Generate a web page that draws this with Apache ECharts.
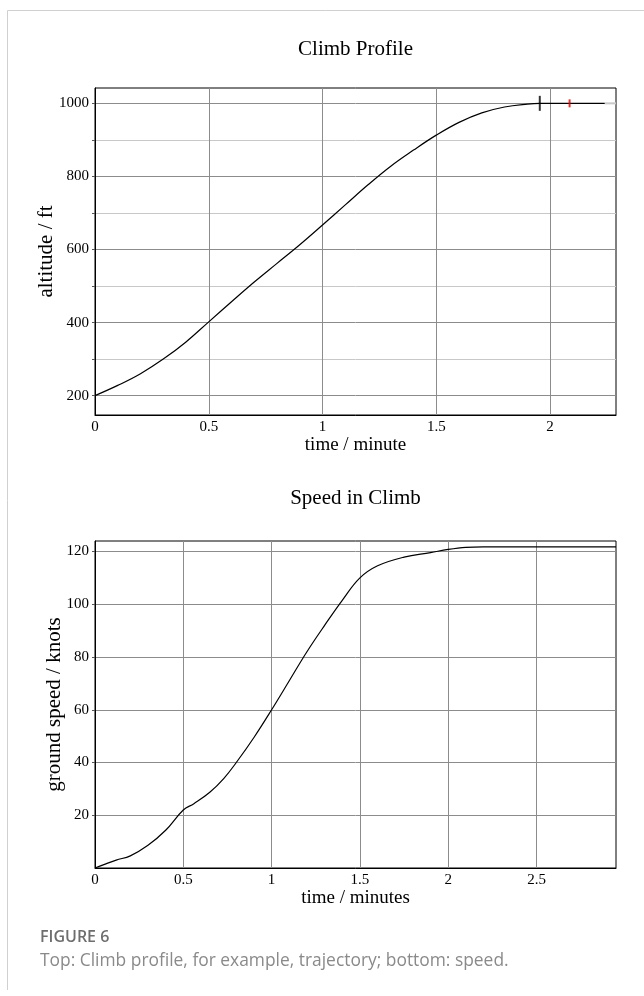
<!DOCTYPE html>
<html lang="en">
<head>
<meta charset="UTF-8">
<title>Climb Profile</title>
<script src="https://cdn.jsdelivr.net/npm/echarts@6/dist/echarts.min.js"></script>
<style>
    html, body { margin: 0; padding: 0; background: #fff; }
    #main { width: 644px; height: 996px; }
</style>
</head>
<body>
<div id="main"></div>
<script>
    // top: climb profile (time in minutes, altitude in ft)
    var climbTime = [0, 0.1, 0.2, 0.3, 0.4, 0.5, 0.6, 0.7, 0.8, 0.9, 1.0, 1.1, 1.2, 1.3, 1.4, 1.5, 1.6, 1.7, 1.8, 1.9, 1.955, 2.24];
    var climbAlt = [200, 228, 260, 300, 347, 402, 457, 511, 562, 613, 667, 722, 777, 828, 872, 913, 948, 974, 990, 998, 1000, 1000];
    var tailTime = [2.24, 2.29];
    var tailAlt = [1000, 1000];
    var topOfClimbTime = [1.955];
    var topOfClimbAlt = [1000];
    var redMarkTime = [2.086];
    var redMarkAlt = [1000];

    // bottom: ground speed in knots
    var speedTime = [0, 0.05, 0.12, 0.2, 0.3, 0.4, 0.5, 0.56, 0.65, 0.73, 0.8, 0.9, 1.0, 1.1, 1.2, 1.3, 1.4, 1.5, 1.6, 1.75, 1.9, 2.0, 2.1, 2.2, 2.95];
    var speedKnots = [0, 1.3, 3.0, 4.6, 8.6, 14.3, 22.0, 24.4, 28.7, 34.0, 40.0, 49.5, 60.0, 71, 82, 92, 101.5, 110, 114.6, 117.9, 119.6, 120.8, 121.6, 121.8, 121.8];

    // ticks
    var altTicks = [200, 300, 400, 500, 600, 700, 800, 900, 1000];
    var altLabels = [200, 400, 600, 800, 1000];
    var topTimeTicks = [0, 0.5, 1, 1.5, 2];
    var speedTicks = [20, 40, 60, 80, 100, 120];
    var bottomTimeTicks = [0, 0.5, 1, 1.5, 2, 2.5];

    function zip(xs, ys) {
        return xs.map(function(x, i) { return [x, ys[i]]; });
    }

    function plain(v) {
        return String(v);
    }

    var serif = 'Liberation Serif';
    var labelStyle = { fontFamily: serif, fontSize: 15, color: '#000', formatter: plain };

    var myChart = echarts.init(document.getElementById('main'), null, { renderer: 'canvas' });
    var option = {
        animation: false,
        backgroundColor: '#fff',
        title: [{
            text: 'Climb Profile',
            left: 350.5,
            top: 34,
            textAlign: 'center',
            textStyle: { fontFamily: serif, fontSize: 21, fontWeight: 'normal', color: '#000' }
        }, {
            text: 'Speed in Climb',
            left: 350.5,
            top: 483,
            textAlign: 'center',
            textStyle: { fontFamily: serif, fontSize: 21, fontWeight: 'normal', color: '#000' }
        }],
        grid: [{
            left: 95, top: 88, width: 521, height: 327,
            show: true, borderColor: '#000', borderWidth: 1, backgroundColor: 'transparent'
        }, {
            left: 95, top: 541, width: 521, height: 327,
            show: true, borderColor: '#000', borderWidth: 1, backgroundColor: 'transparent'
        }],
        xAxis: [{
            type: 'value', gridIndex: 0, min: 0, max: 2.29,
            name: 'time / minute', nameLocation: 'middle', nameGap: 18,
            nameTextStyle: { fontFamily: serif, fontSize: 19, color: '#000' },
            axisLine: { show: true, onZero: false, lineStyle: { color: '#000', width: 1 } },
            axisTick: { show: false, customValues: topTimeTicks },
            axisLabel: Object.assign({ margin: 5, customValues: topTimeTicks }, labelStyle),
            splitLine: { show: true, lineStyle: { color: '#8c8c8c', width: 1 } }
        }, {
            type: 'value', gridIndex: 1, min: 0, max: 2.95,
            name: 'time / minutes', nameLocation: 'middle', nameGap: 18,
            nameTextStyle: { fontFamily: serif, fontSize: 19, color: '#000' },
            axisLine: { show: true, onZero: false, lineStyle: { color: '#000', width: 1 } },
            axisTick: { show: false, customValues: bottomTimeTicks },
            axisLabel: Object.assign({ margin: 5, customValues: bottomTimeTicks }, labelStyle),
            splitLine: { show: true, lineStyle: { color: '#8c8c8c', width: 1 } }
        }],
        yAxis: [{
            type: 'value', gridIndex: 0, min: 147, max: 1042,
            name: 'altitude / ft', nameLocation: 'middle', nameGap: 38, nameMoveOverlap: false,
            nameTextStyle: { fontFamily: serif, fontSize: 21, color: '#000' },
            axisLine: { show: true, onZero: false, lineStyle: { color: '#000', width: 1 } },
            axisTick: { show: true, length: 3, customValues: altTicks, lineStyle: { color: '#555' } },
            axisLabel: Object.assign({ margin: 6, customValues: altLabels }, labelStyle),
            splitLine: { show: true, lineStyle: { color: ['#8c8c8c', '#c8c8c8'], width: 1 } }
        }, {
            type: 'value', gridIndex: 1, min: 0, max: 124,
            name: 'ground speed / knots', nameLocation: 'middle', nameGap: 30, nameMoveOverlap: false,
            nameTextStyle: { fontFamily: serif, fontSize: 21, color: '#000' },
            axisLine: { show: true, onZero: false, lineStyle: { color: '#000', width: 1 } },
            axisTick: { show: true, length: 3, customValues: speedTicks, lineStyle: { color: '#555' } },
            axisLabel: Object.assign({ margin: 6, customValues: speedTicks }, labelStyle),
            splitLine: { show: true, lineStyle: { color: '#8c8c8c', width: 1 } }
        }],
        series: [{
            name: 'tail',
            type: 'line',
            xAxisIndex: 0, yAxisIndex: 0,
            data: zip(tailTime, tailAlt),
            showSymbol: false,
            lineStyle: { color: '#c8c8c8', width: 2 },
            z: 2
        }, {
            name: 'altitude',
            type: 'line',
            xAxisIndex: 0, yAxisIndex: 0,
            data: zip(climbTime, climbAlt),
            smooth: 0.4,
            showSymbol: false,
            lineStyle: { color: '#000', width: 1.2 },
            z: 3
        }, {
            name: 'top of climb',
            type: 'scatter',
            xAxisIndex: 0, yAxisIndex: 0,
            data: zip(topOfClimbTime, topOfClimbAlt),
            symbol: 'rect',
            symbolSize: [2, 15],
            itemStyle: { color: '#000' },
            z: 4
        }, {
            name: 'mark',
            type: 'scatter',
            xAxisIndex: 0, yAxisIndex: 0,
            data: zip(redMarkTime, redMarkAlt),
            symbol: 'rect',
            symbolSize: [2, 8],
            itemStyle: { color: '#e00000' },
            z: 4
        }, {
            name: 'speed',
            type: 'line',
            xAxisIndex: 1, yAxisIndex: 1,
            data: zip(speedTime, speedKnots),
            smooth: 0.4,
            showSymbol: false,
            lineStyle: { color: '#000', width: 1.2 },
            z: 3
        }],
        graphic: [{
            type: 'line',
            shape: { x1: 7.5, y1: 10.5, x2: 644, y2: 10.5 },
            style: { stroke: '#d0d0d0', lineWidth: 1 }
        }, {
            type: 'line',
            shape: { x1: 7.5, y1: 10.5, x2: 7.5, y2: 990 },
            style: { stroke: '#d0d0d0', lineWidth: 1 }
        }, {
            type: 'text',
            left: 40,
            top: 929,
            style: { text: 'FIGURE 6', fontFamily: 'Open Sans', fontSize: 16, fontWeight: 600, fill: '#6e6e6e' }
        }, {
            type: 'text',
            left: 40,
            top: 953,
            style: { text: 'Top: Climb profile, for example, trajectory; bottom: speed.', fontFamily: 'Open Sans', fontSize: 17.4, fill: '#8a8a8a' }
        }]
    };
    myChart.setOption(option);
</script>
</body>
</html>
